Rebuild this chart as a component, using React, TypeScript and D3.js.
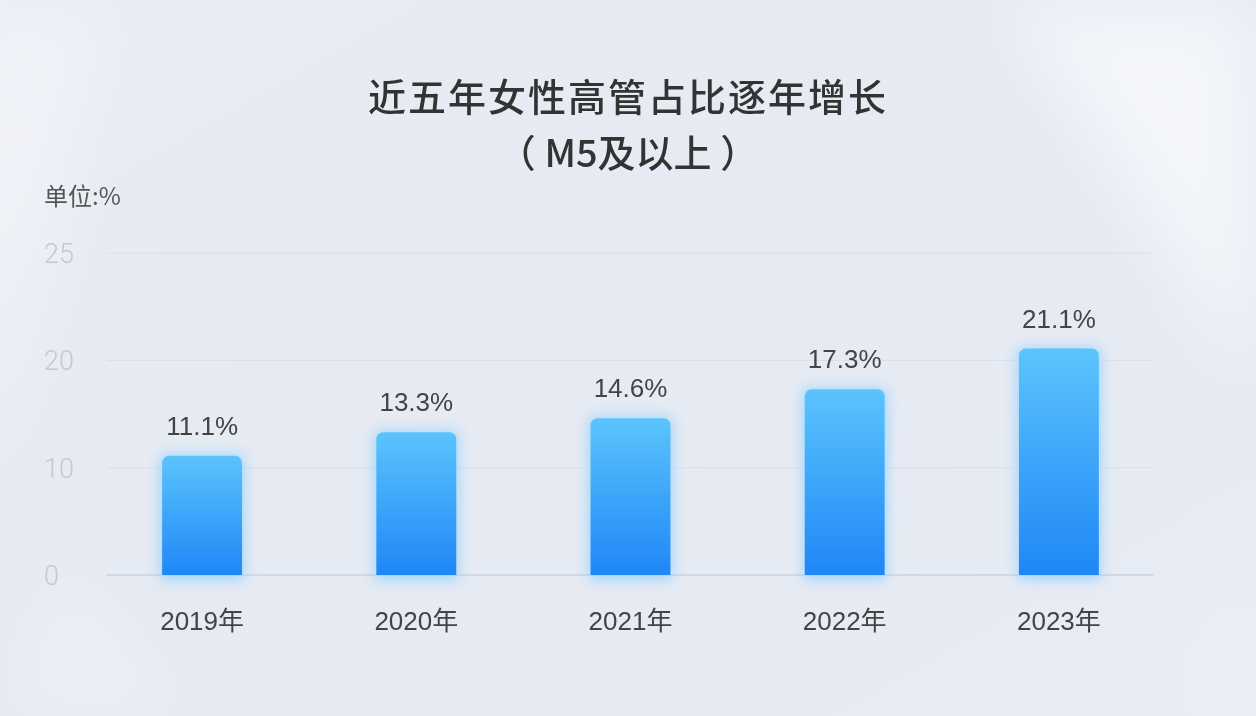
import { useEffect, useRef } from 'react'
import * as d3 from 'd3'

const years = ['2019年', '2020年', '2021年', '2022年', '2023年']
const shares = [11.1, 13.3, 14.6, 17.3, 21.1]
// gridlines sit at even steps; the source labels the top one "25"
const yTickValues = [0, 10, 20, 30]
const yTickLabels = ['0', '10', '20', '25']

const titleLine1 = '近五年女性高管占比逐年增长'
const titleLine2 = '（ M5及以上 ）'
const unitLabel = '单位:%'

const width = 1256
const height = 716
const numFont = '"Liberation Sans", Arial, "Noto Sans CJK SC", sans-serif'
const cjkFont = '"Noto Sans CJK SC", "Liberation Sans", sans-serif'

export default function App() {
	const gy = useRef<SVGGElement>(null)

	const x = d3.scaleBand<string>().domain(years).range([95, 1166]).paddingInner(0.627).paddingOuter(0.3135)
	const y = d3.scaleLinear().domain([0, 30]).range([575, 253])

	useEffect(() => {
		document.body.style.margin = '0'
		const axis = d3.axisLeft(y)
			.tickValues(yTickValues)
			.tickSize(0)
			.tickPadding(0)
			.tickFormat((_, i) => yTickLabels[i])
		const g = d3.select(gy.current!)
		g.call(axis as any)
		g.select('.domain').remove()
		g.selectAll('.tick text')
			.attr('x', 0)
			.attr('text-anchor', 'start')
			.attr('dy', '0.35em')
			.attr('fill', '#c3c8d1')
			.attr('font-size', 27)
			.attr('font-weight', 300)
			.attr('font-family', 'Roboto, "Liberation Sans", sans-serif')
	}, [])

	const barPath = (x0: number, y0: number, w: number, h: number, r: number) => {
		const p = d3.path()
		p.moveTo(x0, y0 + h)
		p.lineTo(x0, y0 + r)
		p.arcTo(x0, y0, x0 + r, y0, r)
		p.lineTo(x0 + w - r, y0)
		p.arcTo(x0 + w, y0, x0 + w, y0 + r, r)
		p.lineTo(x0 + w, y0 + h)
		p.closePath()
		return p.toString()
	}

	return (
		<svg width={width} height={height} style={{ display: 'block' }}>
			<defs>
				<linearGradient id="bg" x1="0" y1="0" x2="1" y2="1">
					<stop offset="0%" stopColor="#e8ecf4" />
					<stop offset="50%" stopColor="#e5eaf3" />
					<stop offset="100%" stopColor="#e8ecf4" />
				</linearGradient>
				<linearGradient id="bar" x1="0" y1="0" x2="0" y2="1">
					<stop offset="0%" stopColor="#5bc4fd" />
					<stop offset="100%" stopColor="#1f87f6" />
				</linearGradient>
				<filter id="soft" x="-50%" y="-50%" width="200%" height="200%">
					<feGaussianBlur stdDeviation="35" />
				</filter>
				<filter id="glow" x="-30%" y="-30%" width="160%" height="160%">
					<feGaussianBlur stdDeviation="6" />
				</filter>
			</defs>

			<rect width={width} height={height} fill="url(#bg)" />
			<g filter="url(#soft)" fill="#ffffff">
				<polygon points="-60,0 120,0 -20,500" opacity="0.35" />
				<polygon points="1000,0 1256,0 1256,380" opacity="0.55" />
				<polygon points="1180,716 1256,560 1256,716" opacity="0.4" />
				<polygon points="60,560 200,716 0,716" opacity="0.25" />
			</g>

			<text x={628} y={111} textAnchor="middle" fontFamily={cjkFont} fontSize={38} fontWeight={500} letterSpacing={2} fill="#333">
				{titleLine1}
			</text>
			<text x={628} y={167} textAnchor="middle" fontFamily={cjkFont} fontSize={38} fontWeight={500} fill="#333">
				{titleLine2}
			</text>
			<text x={44} y={205} fontFamily={cjkFont} fontSize={24} fill="#555">
				{unitLabel}
			</text>

			<g>
				{yTickValues.map(t => (
					<line key={t} x1={107} x2={1153} y1={y(t)} y2={y(t)} stroke={t === 0 ? '#c6d2e6' : '#d8dfeb'} strokeWidth={t === 0 ? 1.5 : 1} />
				))}
			</g>
			<g ref={gy} transform="translate(44,0)" />

			<g>
				{years.map((yr, i) => {
					const bx = x(yr)!
					const bw = x.bandwidth()
					const top = y(shares[i])
					const h = y(0) - top
					return (
						<g key={yr}>
							<rect x={bx - 3} y={top - 2} width={bw + 6} height={h + 8} rx={8} fill="#8fd0ff" opacity={0.7} filter="url(#glow)" />
							<path d={barPath(bx, top, bw, h, 7)} fill="url(#bar)" />
							<text x={bx + bw / 2} y={top - 21} textAnchor="middle" fontFamily={numFont} fontSize={26} fill="#444">
								{shares[i].toFixed(1)}%
							</text>
							<text x={bx + bw / 2} y={630} textAnchor="middle" fontFamily={numFont} fontSize={26} fill="#444">
								{yr}
							</text>
						</g>
					)
				})}
			</g>
		</svg>
	)
}
